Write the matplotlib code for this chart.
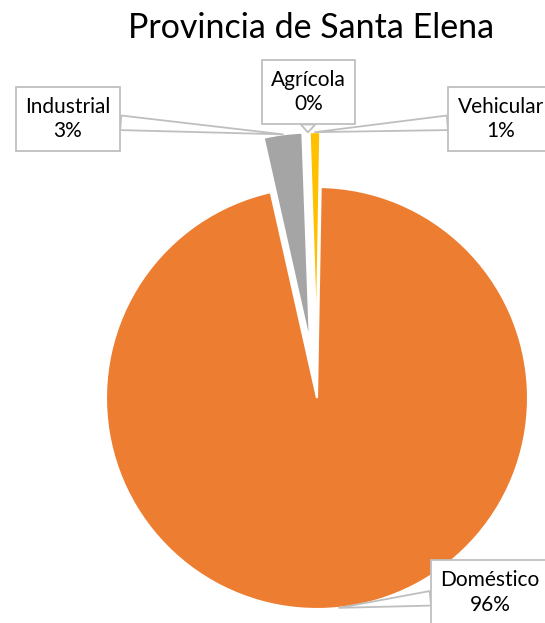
import numpy as np
from matplotlib import pyplot as plt

# Data
labels = ["Doméstico", "Industrial", "Agrícola", "Vehicular"]
values = [96.2, 2.95, 0.05, 0.8]
pct_text = ["96%", "3%", "0%", "1%"]
colors = ["#ED7D31", "#A5A5A5", "#4472C4", "#FFC000"]
explode = [0.0, 0.26, 0.26, 0.26]

plt.rcParams['font.family'] = ['Lato', 'DejaVu Sans']

fig = plt.figure(figsize=(5.45, 6.23), dpi=100)
ax = fig.add_axes([0, 0, 1, 1])
ax.axis("off")

wedges, _ = ax.pie(values, colors=colors, explode=explode, startangle=89,
                   counterclock=False, radius=1.0,
                   wedgeprops=dict(linewidth=1.5, edgecolor="white"))

# pixel scale: radius 1 -> 211 px, pie centre at (317, 398) from top-left
ax.set_xlim(-317 / 211, (545 - 317) / 211)
ax.set_ylim(-225 / 211, 398 / 211)
ax.set_aspect("equal")

fig.text(0.571, 0.955, "Provincia de Santa Elena", ha="center", va="center",
         fontsize=24.5, color="#000000")

# label box positions (data units)
box_pos = [(0.82, -0.92), (-1.18, 1.322), (-0.04, 1.45), (0.87, 1.322)]

for w, lab, pct, pos in zip(wedges, labels, pct_text, box_pos):
    ang = np.deg2rad((w.theta1 + w.theta2) / 2)
    cx, cy = w.center
    tip = (cx + w.r * np.cos(ang), cy + w.r * np.sin(ang))
    if lab == "Doméstico":
        tip = (cx + w.r * np.cos(np.deg2rad(-84)), cy + w.r * np.sin(np.deg2rad(-84)))
    ax.annotate(lab + "\n" + pct, xy=tip, xytext=pos, ha="center", va="center",
                fontsize=15, linespacing=1.3,
                bbox=dict(boxstyle="square,pad=0.45", fc="white", ec="#BFBFBF", lw=1.3),
                arrowprops=dict(arrowstyle="wedge,tail_width=0.7,shrink_factor=0.5",
                                fc="white", ec="#BFBFBF", lw=1.3, shrinkA=0, shrinkB=0),
                annotation_clip=False)

plt.savefig("out.png", dpi=100)
